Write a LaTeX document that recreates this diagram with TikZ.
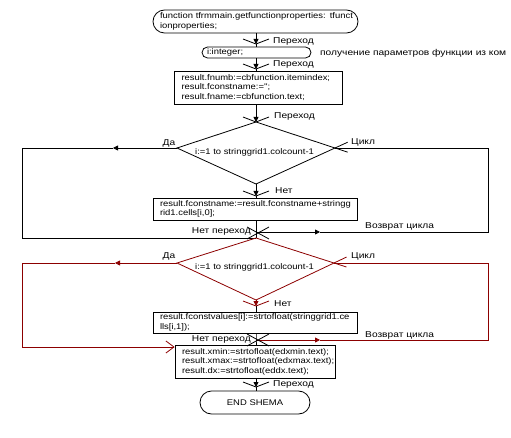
\documentclass[tikz,border=0pt]{standalone}
\usepackage{fontspec}
\newfontfamily\ff{Liberation Sans}[FakeStretch=1.15]
\newfontfamily\cf{Liberation Sans}[FakeStretch=1.2]
\usetikzlibrary{arrows.meta,calc}
\definecolor{dred}{RGB}{140,0,0}
\begin{document}
\begin{tikzpicture}[x=1pt,y=-1pt,
  every node/.style={font=\ff\fontsize{8.2}{9.5}\selectfont, inner sep=0pt},
  ln/.style={line width=0.8pt},
  tip/.style={-{Triangle[length=5pt,width=5pt]}},
  box/.style={draw, line width=0.8pt, rectangle, align=left, inner xsep=7pt, inner ysep=0pt},
  lbl/.style={font=\cf\fontsize{8.5}{9.5}\selectfont},
  vm/.pic={\draw[line width=0.8pt] (-13,-5) -- (0,0) -- (13,-5);},
  xm/.pic={\draw[line width=0.8pt] (-11,-6) -- (11,6) (-11,6) -- (11,-6);},
]
\useasboundingbox (0,0) rectangle (511,438);

% nodes
\node[box, rounded corners=11.5pt, text width=191pt, minimum height=23pt] (start) at (255.5,21.5)
  {\mbox{function tfrmmain.getfunctionproperties: tfunct}\\ionproperties;};
\node[box, rounded corners=5.5pt, inner xsep=5pt, text width=99pt, minimum height=11pt] (ell) at (256.5,52.5) {i:integer;};
\node[lbl, anchor=west] (cm) at (320,53) {получение параметров функции из ком};
\node[box, text width=154pt, minimum height=33pt] (b3) at (258.5,87.5)
  {\mbox{result.fnumb:=cbfunction.itemindex;}\\result.fconstname:='';\\\mbox{result.fname:=cbfunction.text;}};
\node[box, text width=190pt, minimum height=22pt] (b4) at (255,209)
  {\mbox{result.fconstname:=result.fconstname+stringg}\\rid1.cells[i,0];};
\node[box, text width=190pt, minimum height=21pt] (b5) at (255,322.5)
  {\mbox{result.fconstvalues[i]:=strtofloat(stringgrid1.ce}\\lls[i,1]);};
\node[box, text width=146pt, minimum height=33pt] (b6) at (255,361.5)
  {\mbox{result.xmin:=strtofloat(edxmin.text);}\\\mbox{result.xmax:=strtofloat(edxmax.text);}\\\mbox{result.dx:=strtofloat(eddx.text);}};
\node[box, rounded corners=11.5pt, align=center, text width=96pt, minimum height=23pt] (fin) at (255,402.5) {END SHEMA};

% coordinates
\coordinate (v1) at (256,44);
\coordinate (v2) at (256,69);
\coordinate (T1) at (256,122);
\coordinate (L1) at (177,148);
\coordinate (R1) at (335,148);
\coordinate (B1) at (256,184);
\coordinate (v4) at (256,196);
\coordinate (J1) at (256,238);
\coordinate (L2) at (177,263);
\coordinate (R2) at (334,263);
\coordinate (B2) at (256,300);
\coordinate (v5) at (256,306);
\coordinate (J2) at (256,340);
\coordinate (v6) at (256,387);

% main flow
\draw[ln,tip] (v1 |- start.south) -- (v1);
\pic at (v1) {vm};
\draw[ln] (v1) -- (v1 |- ell.north);
\draw[ln,tip] (v2 |- ell.south) -- (v2);
\pic at (v2) {vm};
\draw[ln] (v2) -- (v2 |- b3.north);
\draw[ln,tip] (T1 |- b3.south) -- (T1);
\pic at (T1) {vm};

% diamond 1
\draw[ln] (R1) -- (T1) -- (L1) -- (B1) -- (R1);
\draw[ln] (R1) -- ($(T1)!1.16!(R1)$);
\draw[ln] (R1) -- ($(B1)!1.16!(R1)$);
\node[anchor=west] (d1t) at (195,152) {i:=1 to stringgrid1.colcount-1};
\draw[ln,tip] (B1) -- (v4);
\pic at (v4) {vm};
\draw[ln] (v4) -- (v4 |- b4.north);
\draw[ln] (J1 |- b4.south) -- (J1);
\pic at (258,233) {xm};

% loop 1 left
\coordinate (m1) at (113,148);
\coordinate (a1) at (22,148);
\coordinate (a2) at (22,238);
\draw[ln,tip] (L1) -- (m1);
\draw[ln] (m1) -- (a1) -- (a2) -- (J1);
% loop 1 right
\coordinate (r1) at (488,148);
\coordinate (r2) at (488,232);
\coordinate (r3) at (256,232);
\coordinate (m2) at (320,232);
\draw[ln] (R1) -- (r1) -- (r2) -- (m2);
\draw[ln,tip] (r3) -- (m2);

% diamond 2 (red)
\begin{scope}[dred]
\draw[ln] (R2) -- (J1) -- (L2) -- (B2) -- (R2);
\draw[ln] (R2) -- ($(J1)!1.16!(R2)$);
\draw[ln] (R2) -- ($(B2)!1.16!(R2)$);
\draw[ln,tip] (B2) -- (v5);
\pic at (v5) {vm};
% loop 2 left
\coordinate (m3) at (115,263);
\coordinate (e1) at (22,263);
\coordinate (e2) at (22,347);
\draw[ln,tip] (L2) -- (m3);
\draw[ln] (m3) -- (e1) -- (e2);
\draw[ln,-{Straight Barb[length=8pt,width=12pt]}] (e2) -- (b6.west |- e2);
% loop 2 right
\coordinate (f1) at (488,263);
\coordinate (f2) at (488,340);
\coordinate (m4) at (320,340);
\draw[ln] (R2) -- (f1) -- (f2) -- (m4);
\draw[ln,tip] (J2) -- (m4);
\end{scope}
\node[anchor=west] (d2t) at (195,267) {i:=1 to stringgrid1.colcount-1};
\draw[ln] (v5) -- (v5 |- b5.north);
\draw[ln] (J2 |- b5.south) -- (J2) -- (J2 |- b6.north);
\pic at (258,340) {xm};
\draw[ln,tip] (v6 |- b6.south) -- (v6);
\pic at (v6) {vm};
\draw[ln] (v6) -- (v6 |- fin.north);

% labels
\node[lbl, anchor=west] (p1) at (273,41) {Переход};
\node[lbl, anchor=west] (p2) at (273,64) {Переход};
\node[lbl, anchor=west] (p3) at (274,116) {Переход};
\node[lbl, anchor=west] (p4) at (273,384) {Переход};
\node[lbl, anchor=west] (n1) at (275,191) {Нет};
\node[lbl, anchor=west] (n2) at (274,304) {Нет};
\node[lbl] (da1) at (169,143) {Да};
\node[lbl] (da2) at (169,256) {Да};
\node[lbl, anchor=west] (c1) at (351,142) {Цикл};
\node[lbl, anchor=west] (c2) at (351,256) {Цикл};
\node[lbl, anchor=east] (np1) at (251,231) {Нет переход};
\node[lbl, anchor=east] (np2) at (251,339) {Нет переход};
\node[lbl, anchor=west] (vz1) at (365,226) {Возврат цикла};
\node[lbl, anchor=west] (vz2) at (365,335) {Возврат цикла};
\end{tikzpicture}
\end{document}
